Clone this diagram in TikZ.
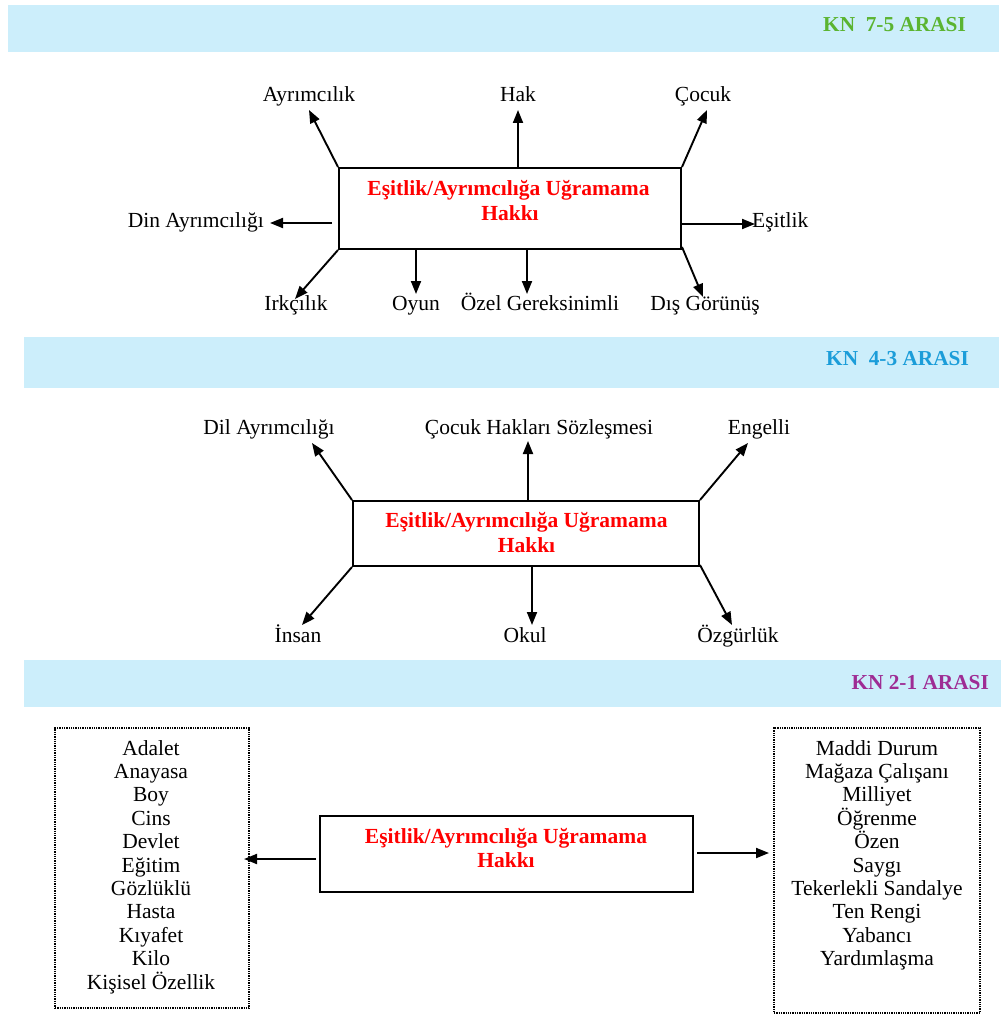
\documentclass[tikz,border=0pt]{standalone}
\usepackage{fontspec}
\setmainfont{Liberation Serif}
\usetikzlibrary{arrows.meta}
\definecolor{hdr}{HTML}{CCEEFB}
\definecolor{kgreen}{HTML}{5BB431}
\definecolor{kblue}{HTML}{1B9DD9}
\definecolor{kpurple}{HTML}{9E2C94}
\definecolor{tred}{HTML}{FF0000}
\begin{document}
\begin{tikzpicture}[x=1pt,y=-1pt,
  hdrbar/.style={fill=hdr,draw=none},
  hdrtext/.style={font=\fontsize{21.3}{24}\selectfont\bfseries,anchor=base east,inner sep=0},
  mainbox/.style={draw,line width=2pt,fill=white},
  redtext/.style={text=tred,font=\fontsize{21.5}{25}\selectfont\bfseries,anchor=base,inner sep=0},
  lab/.style={font=\fontsize{21.5}{24}\selectfont,inner sep=0,anchor=base},
  arr/.style={line width=1.9pt,-{Triangle[length=13pt,width=10pt]}},
  listbox/.style={draw,line width=1.3pt,densely dotted},
  listtext/.style={font=\fontsize{21.5}{24}\selectfont,inner sep=0,anchor=base}]
\useasboundingbox (0,0) rectangle (1003,1030);
\fill[white] (0,0) rectangle (1003,1030);

% ---------- Panel 1 ----------
\fill[hdrbar] (8,5) rectangle (999,52);
\node[hdrtext,text=kgreen] (h1) at (966,32) {KN\ \ 7-5 ARASI};
\node[mainbox,minimum width=342,minimum height=81] (b1) at (510,208.5) {};
\node[redtext] (r11) at (508.5,195) {Eşitlik/Ayrımcılığa Uğramama};
\node[redtext] (r12) at (510,220) {Hakkı};
\node[lab] (l11) at (309,102) {Ayrımcılık};
\node[lab] (l12) at (518,102) {Hak};
\node[lab] (l13) at (703,102) {Çocuk};
\node[lab,anchor=base east] (l14) at (264,227) {Din Ayrımcılığı};
\node[lab,anchor=base west] (l15) at (752,227) {Eşitlik};
\node[lab] (l16) at (296,310) {Irkçılık};
\node[lab] (l17) at (416,310) {Oyun};
\node[lab] (l18) at (540,310) {Özel Gereksinimli};
\node[lab] (l19) at (705,310) {Dış Görünüş};
\coordinate (t11) at (309,110);
\coordinate (t12) at (518,110);
\coordinate (t13) at (707,110);
\coordinate (t14) at (270,223);
\coordinate (t15) at (755,224);
\coordinate (t16) at (295,299);
\coordinate (t17) at (416,294);
\coordinate (t18) at (527,294);
\coordinate (t19) at (703,297);
\draw[arr] (b1.north west) -- (t11);
\draw[arr] (b1.north -| t12) -- (t12);
\draw[arr] (b1.north east) -- (t13);
\draw[arr] ([xshift=-6pt]b1.west |- t14) -- (t14);
\draw[arr] (b1.east |- t15) -- (t15);
\draw[arr] (b1.south west) -- (t16);
\draw[arr] (b1.south -| t17) -- (t17);
\draw[arr] (b1.south -| t18) -- (t18);
\draw[arr] ([yshift=3pt]b1.south east) -- (t19);

% ---------- Panel 2 ----------
\fill[hdrbar] (24,337) rectangle (999,388);
\node[hdrtext,text=kblue] (h2) at (969,365) {KN\ \ 4-3 ARASI};
\node[mainbox,minimum width=346,minimum height=65] (b2) at (526,533.5) {};
\node[redtext] (r21) at (526.5,527) {Eşitlik/Ayrımcılığa Uğramama};
\node[redtext] (r22) at (526.5,552) {Hakkı};
\node[lab] (l21) at (269,434) {Dil Ayrımcılığı};
\node[lab] (l22) at (539,434) {Çocuk Hakları Sözleşmesi};
\node[lab] (l23) at (759,434) {Engelli};
\node[lab] (l24) at (298,642) {İnsan};
\node[lab] (l25) at (525,642) {Okul};
\node[lab] (l26) at (738,642) {Özgürlük};
\coordinate (t21) at (312,443);
\coordinate (t22) at (528,441);
\coordinate (t23) at (748,443);
\coordinate (t24) at (302,625);
\coordinate (t25) at (532,625);
\coordinate (t26) at (732,625);
\draw[arr] (b2.north west) -- (t21);
\draw[arr] (b2.north -| t22) -- (t22);
\draw[arr] (b2.north east) -- (t23);
\draw[arr] (b2.south west) -- (t24);
\draw[arr] (b2.south -| t25) -- (t25);
\draw[arr] ([yshift=2pt]b2.south east) -- (t26);

% ---------- Panel 3 ----------
\fill[hdrbar] (24,660) rectangle (1001,707);
\node[hdrtext,text=kpurple] (h3) at (989,689) {KN 2-1 ARASI};
\node[mainbox,minimum width=373,minimum height=76] (b3) at (506.5,854) {};
\node[redtext] (r31) at (506,843) {Eşitlik/Ayrımcılığa Uğramama};
\node[redtext] (r32) at (506,867) {Hakkı};
\node[listbox,minimum width=194,minimum height=280] (lb) at (152,868) {};
\node[listbox,minimum width=206,minimum height=285] (rb) at (877,870.5) {};
\foreach \t [count=\i] in {Adalet,Anayasa,Boy,Cins,Devlet,Eğitim,Gözlüklü,Hasta,Kıyafet,Kilo,Kişisel Özellik}
  \node[listtext] (la\i) at (151,{755+23.4*(\i-1)}) {\t};
\foreach \t [count=\i] in {Maddi Durum,Mağaza Çalışanı,Milliyet,Öğrenme,Özen,Saygı,Tekerlekli Sandalye,Ten Rengi,Yabancı,Yardımlaşma}
  \node[listtext] (ra\i) at (877,{755+23.4*(\i-1)}) {\t};
\coordinate (t31) at (244,859);
\coordinate (t32) at (769,853);
\draw[arr] ([xshift=-3pt]b3.west |- t31) -- (t31);
\draw[arr] ([xshift=3pt]b3.east |- t32) -- (t32);
\end{tikzpicture}
\end{document}
